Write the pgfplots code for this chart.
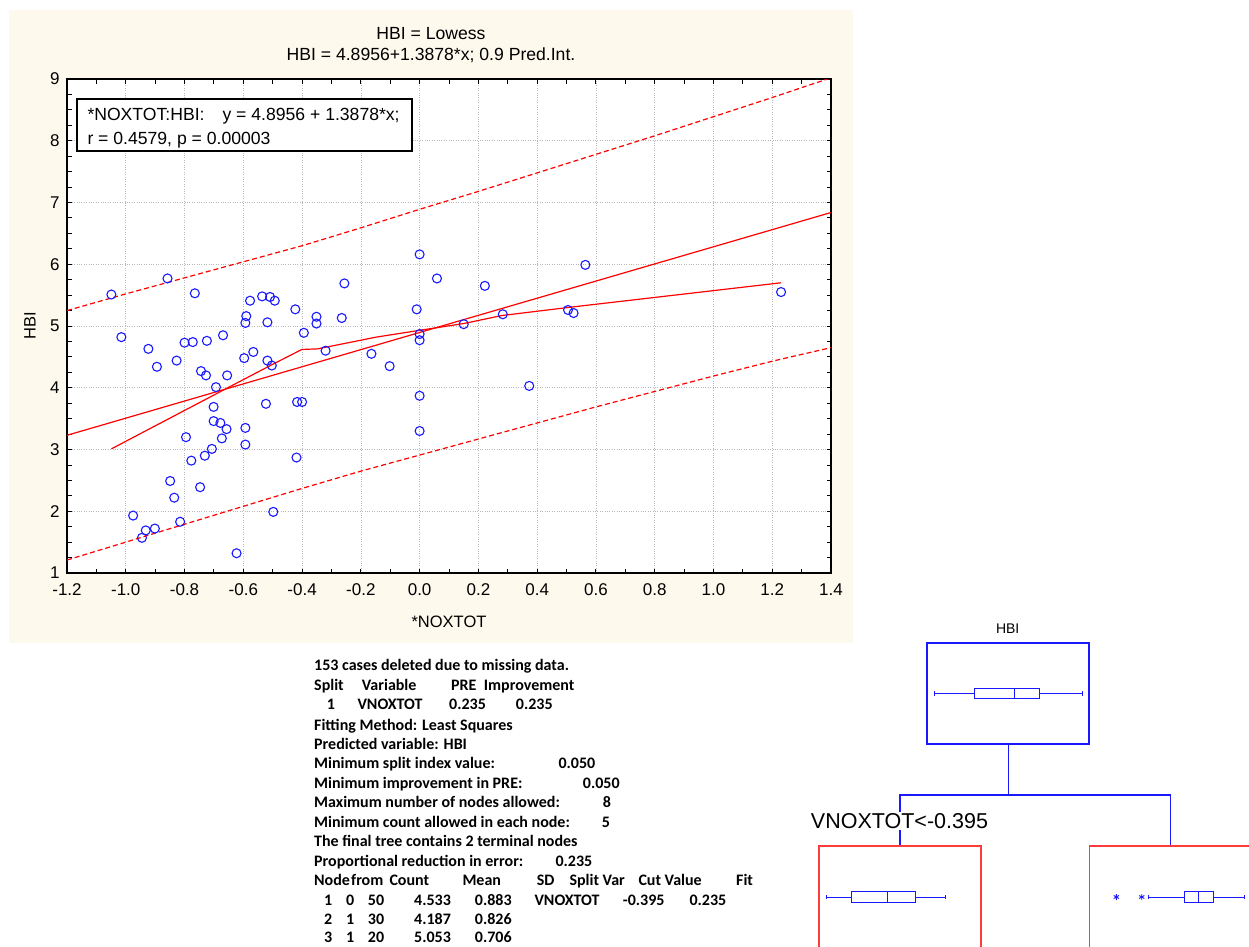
\documentclass[border=0pt]{standalone}
\usepackage{pgfplots}
\pgfplotsset{compat=1.18}
\usepgfplotslibrary{statistics}
\usepackage{fontspec}
\setmainfont{Liberation Sans}
\newfontfamily\carlito{Carlito}
\definecolor{cream}{RGB}{254,249,237}
\definecolor{pblue}{RGB}{25,25,255}
\definecolor{pred}{RGB}{255,0,0}
\definecolor{boxred}{RGB}{255,60,60}
\newcommand\tb{\carlito\bfseries\fontsize{16}{19}\selectfont}
\newcommand\T[3]{\node[anchor=base west,inner sep=0pt,font=\tb] at (#1pt,-#2pt) {#3};}

\begin{document}
\begin{tikzpicture}
\useasboundingbox (0,0) rectangle (1249pt,-946pt);
\fill[white] (0,0) rectangle (1249pt,-946pt);
\fill[cream] (9pt,-10pt) rectangle (853pt,-643pt);

\begin{axis}[
  at={(67pt,-573pt)}, anchor=south west,
  scale only axis, width=764pt, height=494pt,
  xmin=-1.2, xmax=1.4, ymin=1, ymax=9,
  xtick={-1.2,-1,-0.8,-0.6,-0.4,-0.2,0,0.2,0.4,0.6,0.8,1,1.2,1.4},
  xticklabels={-1.2,-1.0,-0.8,-0.6,-0.4,-0.2,0.0,0.2,0.4,0.6,0.8,1.0,1.2,1.4},
  ytick={1,2,3,4,5,6,7,8,9},
  yticklabels={1,2,3,4,5,6,7,8,9},
  minor x tick num=1, minor y tick num=3,
  tick align=inside,
  major tick length=4.5pt, minor tick length=4.5pt,
  every tick/.append style={black, line width=0.9pt},
  axis line style={black, line width=1.5pt},
  grid=major,
  major grid style={dotted, black!28, line width=0.7pt},
  axis background/.style={fill=white},
  ticklabel style={font=\fontsize{17}{20}\selectfont},
  xticklabel style={yshift=-7pt},
  yticklabel style={xshift=-4pt},
  /pgf/number format/assume math mode=true,
]
% 0.9 prediction interval
\addplot[pred, line width=1.2pt, dash pattern=on 5pt off 3pt] coordinates {
(-1.2,5.25)(-1.0,5.52)(-0.8,5.78)(-0.6,6.04)(-0.4,6.30)(-0.2,6.59)(0.0,6.89)
(0.2,7.18)(0.4,7.48)(0.6,7.78)(0.8,8.08)(1.0,8.39)(1.2,8.70)(1.4,9.02)};
\addplot[pred, line width=1.2pt, dash pattern=on 5pt off 3pt] coordinates {
(-1.2,1.21)(-1.0,1.50)(-0.8,1.79)(-0.6,2.08)(-0.4,2.37)(-0.2,2.65)(0.0,2.91)
(0.2,3.17)(0.4,3.43)(0.6,3.69)(0.8,3.94)(1.0,4.19)(1.2,4.43)(1.4,4.65)};
% linear fit
\addplot[pred, line width=1.2pt] coordinates {(-1.2,3.230)(1.4,6.838)};
% lowess
\addplot[pred, line width=1.2pt] coordinates {
(-1.049,3.01)(-0.653,4.00)(-0.50,4.38)(-0.401,4.62)(-0.347,4.63)(-0.148,4.82)
(0.0,4.93)(0.15,5.04)(0.28,5.17)(0.505,5.30)(1.23,5.70)};
% data
\addplot[only marks, mark=o, mark size=4.5pt, pblue, mark options={line width=1.1pt}] coordinates {
(-1.049,5.51)(-0.858,5.77)(-0.765,5.53)(-1.015,4.82)(-0.923,4.63)(-0.894,4.34)
(-0.827,4.44)(-0.800,4.73)(-0.772,4.74)(-0.724,4.76)(-0.669,4.85)(-0.744,4.27)
(-0.727,4.20)(-0.655,4.20)(-0.693,4.01)(-0.701,3.69)(-0.701,3.46)(-0.678,3.43)
(-0.657,3.33)(-0.673,3.18)(-0.795,3.20)(-0.707,3.01)(-0.731,2.90)(-0.777,2.82)
(-0.849,2.49)(-0.835,2.22)(-0.747,2.39)(-0.815,1.83)(-0.975,1.93)(-0.932,1.69)
(-0.901,1.72)(-0.945,1.57)(-0.623,1.32)(-0.498,1.99)(-0.593,3.35)(-0.593,3.08)
(-0.523,3.74)(-0.417,3.77)(-0.400,3.77)(-0.419,2.87)(-0.597,4.48)(-0.566,4.58)
(-0.518,4.44)(-0.503,4.36)(-0.593,5.05)(-0.590,5.16)(-0.577,5.41)(-0.536,5.48)
(-0.509,5.47)(-0.493,5.41)(-0.518,5.06)(-0.423,5.27)(-0.394,4.89)(-0.351,5.15)
(-0.351,5.04)(-0.320,4.60)(-0.265,5.13)(-0.256,5.69)(-0.164,4.55)(-0.102,4.35)
(-0.010,5.27)(0.0,4.87)(0.0,4.77)(0.0,3.87)(0.0,3.30)(0.059,5.77)(0.0,6.16)
(0.222,5.65)(0.564,5.99)(0.150,5.03)(0.283,5.19)(0.505,5.26)(0.524,5.21)
(1.230,5.55)(0.373,4.03)};
\end{axis}

% legend box with fit
\draw[black, line width=1.2pt, fill=white] (77pt,-99pt) rectangle (412pt,-151pt);
\node[anchor=base west, inner sep=0pt, font=\fontsize{17.6}{20}\selectfont] at (87.3pt,-120.5pt) {*NOXTOT:HBI:\hspace{18pt}y = 4.8956 + 1.3878*x;};
\node[anchor=base west, inner sep=0pt, font=\fontsize{17.6}{20}\selectfont] at (87.3pt,-144pt) {r = 0.4579, p = 0.00003};

% titles and labels
\node[font=\fontsize{17.6}{20}\selectfont, inner sep=0pt] at (431pt,-34pt) {HBI = Lowess};
\node[font=\fontsize{17.6}{20}\selectfont, inner sep=0pt] at (431pt,-55.7pt) {HBI = 4.8956+1.3878*x; 0.9 Pred.Int.};
\node[font=\fontsize{16.5}{20}\selectfont, inner sep=0pt] at (449pt,-622pt) {*NOXTOT};
\node[font=\fontsize{16.5}{20}\selectfont, inner sep=0pt, rotate=90] at (30pt,-326pt) {HBI};

% text output
\T{314}{670}{153 cases deleted due to missing data.}
\T{314}{690}{Split}
\T{361.7}{690}{Variable}
\T{451}{690}{PRE}
\T{483.7}{690}{Improvement}
\T{326.7}{709.5}{1}
\T{357.3}{709.5}{VNOXTOT}
\T{449}{709.5}{0.235}
\T{515.7}{709.5}{0.235}
\T{314}{730}{Fitting Method: Least Squares}
\T{314}{749.5}{Predicted variable: HBI}
\T{314}{768.5}{Minimum split index value:}
\T{558.3}{768.5}{0.050}
\T{314}{788}{Minimum improvement in PRE:}
\T{582.7}{788}{0.050}
\T{314}{807}{Maximum number of nodes allowed:}
\T{602.7}{807}{8}
\T{314}{827}{Minimum count allowed in each node:}
\T{601.7}{827}{5}
\T{314}{846.5}{The final tree contains 2 terminal nodes}
\T{314}{866}{Proportional reduction in error:}
\T{555.3}{866}{0.235}
\T{314}{885.5}{Node}
\T{351}{885.5}{from}
\T{389.3}{885.5}{Count}
\T{462.3}{885.5}{Mean}
\T{536.7}{885.5}{SD}
\T{569.3}{885.5}{Split Var}
\T{638.3}{885.5}{Cut Value}
\T{736}{885.5}{Fit}
\T{324}{905}{1}\T{346}{905}{0}\T{367.7}{905}{50}\T{414}{905}{4.533}\T{474.7}{905}{0.883}
\T{534.3}{905}{VNOXTOT}\T{622.7}{905}{-0.395}\T{689.3}{905}{0.235}
\T{324}{924}{2}\T{346}{924}{1}\T{367.7}{924}{30}\T{414}{924}{4.187}\T{474.7}{924}{0.826}
\T{324}{942.5}{3}\T{346}{942.5}{1}\T{367.7}{942.5}{20}\T{414}{942.5}{5.053}\T{474.7}{942.5}{0.706}

% tree
\node[font=\fontsize{14}{16}\selectfont, inner sep=0pt] at (1007.7pt,-629pt) {HBI};
\draw[pblue, line width=1.3pt] (1008.5pt,-744pt) -- (1008.5pt,-795pt);
\draw[pblue, line width=1.3pt] (900pt,-846pt) -- (900pt,-795pt) -- (1170.3pt,-795pt) -- (1170.3pt,-846pt);
\node[anchor=west, font=\fontsize{21.5}{24}\selectfont, fill=white, inner xsep=0pt, inner ysep=1.5pt] at (810.7pt,-820.7pt) {VNOXTOT<-0.395};

\pgfplotsset{treenode/.style={scale only axis, width=162pt, xmin=1.091, xmax=6.385, ymin=0, ymax=1, ticks=none, axis background/.style={fill=white}}}
\begin{axis}[treenode, height=101pt, at={(927pt,-744pt)}, anchor=south west, axis line style={pblue, line width=1.3pt}]
\addplot[pblue, line width=1pt, boxplot/draw direction=x, boxplot prepared={lower whisker=1.330, lower quartile=2.650, median=3.944, upper quartile=4.751, upper whisker=6.156, draw position=0.5, box extend=0.105, whisker extend=0.04}] coordinates {};
\end{axis}
\begin{axis}[treenode, height=102pt, at={(819pt,-948pt)}, anchor=south west, axis line style={boxred, line width=1.3pt}]
\addplot[pblue, line width=1pt, boxplot/draw direction=x, boxplot prepared={lower whisker=1.320, lower quartile=2.160, median=3.323, upper quartile=4.251, upper whisker=5.231, draw position=0.5, box extend=0.104, whisker extend=0.04}] coordinates {};
\end{axis}
\begin{axis}[treenode, height=102pt, at={(1089.3pt,-948pt)}, anchor=south west, axis line style={boxred, line width=1.3pt}]
\addplot[pblue, line width=1pt, boxplot/draw direction=x, boxplot prepared={lower whisker=3.019, lower quartile=4.209, median=4.666, upper quartile=5.156, upper whisker=6.169, draw position=0.5, box extend=0.104, whisker extend=0.04}] coordinates {};
\addplot[only marks, pblue, mark=asterisk, mark size=3pt, mark options={line width=0.9pt}] coordinates {(1.973,0.5)(2.803,0.5)};
\end{axis}
\end{tikzpicture}
\end{document}
